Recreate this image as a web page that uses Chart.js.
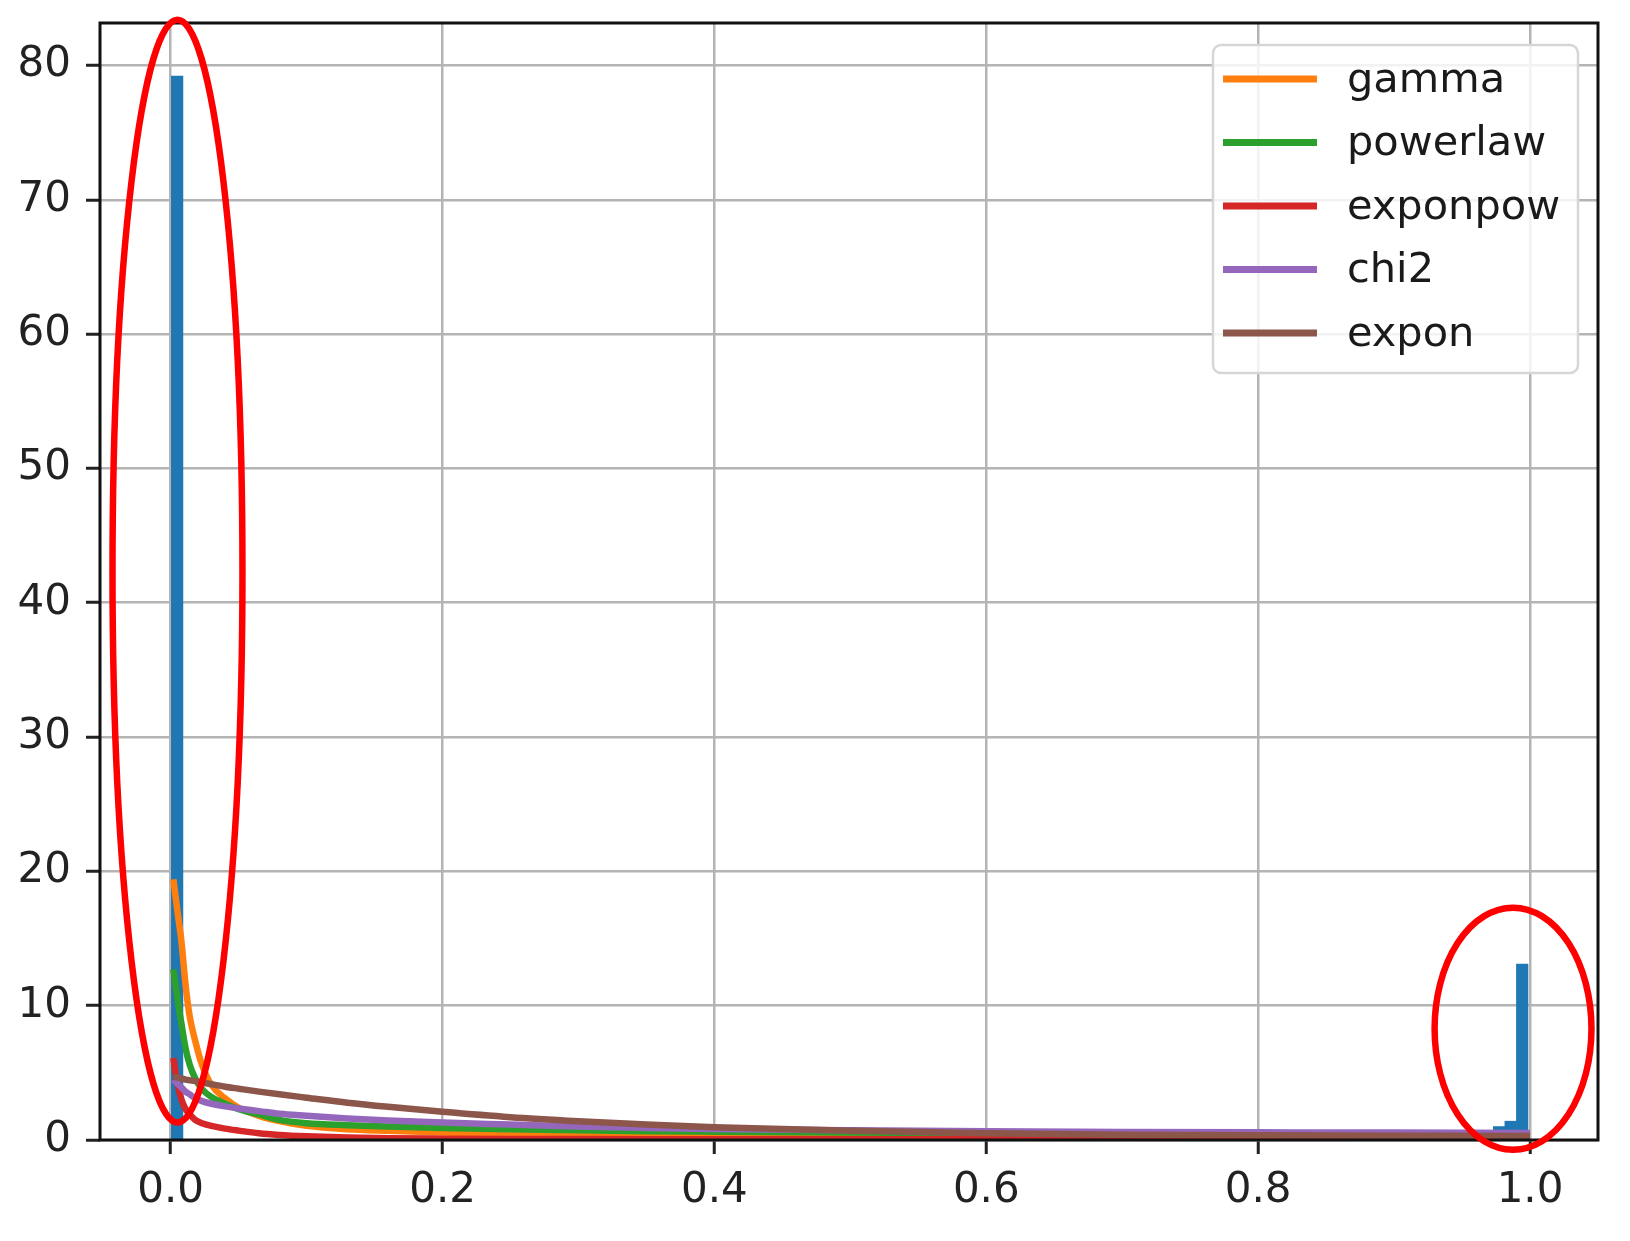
<!DOCTYPE html>
<html>
<head>
<meta charset="utf-8">
<script src="https://cdn.jsdelivr.net/npm/chart.js@4.4.1/dist/chart.umd.min.js"></script>
<style>
  html, body { margin: 0; padding: 0; background: #ffffff; }
  #wrap { width: 1630px; height: 1241px; position: relative; }
</style>
</head>
<body>
<div id="wrap"><canvas id="c"></canvas></div>
<script>
// ---------- data ----------
const xTickValues = [0.0, 0.2, 0.4, 0.6, 0.8, 1.0];
const xTickLabels = ['0.0', '0.2', '0.4', '0.6', '0.8', '1.0'];
const yTickValues = [0, 10, 20, 30, 40, 50, 60, 70, 80];
const yTickLabels = ['0', '10', '20', '30', '40', '50', '60', '70', '80'];

// histogram bins (centers) and heights
const histX = [0.00475, 0.96025, 0.96875, 0.97725, 0.98575, 0.99425];
const histY = [79.2, 0.45, 0.6, 1.0, 1.4, 13.1];

// fitted curves, sampled at these x
const curveX = [0.002, 0.005, 0.008, 0.011, 0.014, 0.018, 0.023, 0.03, 0.04, 0.05, 0.065, 0.08, 0.1, 0.13, 0.16, 0.2, 0.25, 0.3, 0.35, 0.4, 0.5, 0.6, 0.7, 0.8, 0.9, 1.0];
const seriesNames = ['gamma', 'powerlaw', 'exponpow', 'chi2', 'expon'];
const gammaY    = [19.4, 17.0, 14.7, 11.5, 9.2, 7.4, 5.6, 4.1, 3.1, 2.4, 1.8, 1.4, 1.05, 0.8, 0.68, 0.55, 0.42, 0.33, 0.26, 0.21, 0.14, 0.10, 0.08, 0.06, 0.05, 0.04];
const powerlawY = [12.7, 10.5, 8.6, 6.8, 5.6, 4.6, 3.8, 3.2, 2.7, 2.3, 1.9, 1.5, 1.25, 1.1, 1.0, 0.9, 0.8, 0.72, 0.66, 0.62, 0.55, 0.5, 0.47, 0.44, 0.42, 0.4];
const exponpowY = [6.1, 4.2, 3.0, 2.3, 1.9, 1.5, 1.25, 1.05, 0.85, 0.7, 0.5, 0.38, 0.28, 0.18, 0.13, 0.1, 0.08, 0.07, 0.06, 0.06, 0.05, 0.05, 0.05, 0.05, 0.05, 0.05];
const chi2Y     = [4.5, 4.2, 3.9, 3.6, 3.4, 3.1, 2.9, 2.7, 2.5, 2.35, 2.15, 1.95, 1.8, 1.6, 1.45, 1.3, 1.15, 1.0, 0.9, 0.82, 0.72, 0.65, 0.6, 0.57, 0.55, 0.53];
const exponY    = [4.7, 4.65, 4.58, 4.5, 4.45, 4.38, 4.28, 4.15, 3.97, 3.82, 3.6, 3.4, 3.15, 2.78, 2.47, 2.1, 1.7, 1.4, 1.15, 0.95, 0.68, 0.5, 0.4, 0.35, 0.32, 0.3];

// red hand-drawn ellipses (in data units)
const ellipseCX = [0.0050, 0.9875];
const ellipseCY = [42.35, 8.29];
const ellipseRX = [0.0478, 0.0577];
const ellipseRY = [41.05, 9.01];

// ---------- styles ----------
const FONT = "'DejaVu Sans', 'Liberation Sans', sans-serif";
const colors = ['#ff7f0e', '#2ca02c', '#d62728', '#9467bd', '#8c564b'];
const seriesY = [gammaY, powerlawY, exponpowY, chi2Y, exponY];

const datasets = [];
datasets.push({
  type: 'bar',
  label: 'hist',
  data: histX.map((x, i) => ({ x: x, y: histY[i] })),
  backgroundColor: '#1f77b4',
  borderWidth: 0,
  categoryPercentage: 1.0,
  barPercentage: 1.0,
  order: 10
});
seriesNames.forEach((name, k) => {
  datasets.push({
    type: 'line',
    label: name,
    data: curveX.map((x, i) => ({ x: x, y: seriesY[k][i] })),
    borderColor: colors[k],
    backgroundColor: colors[k],
    borderWidth: 6.5,
    pointRadius: 0,
    fill: false,
    cubicInterpolationMode: 'monotone',
    borderCapStyle: 'butt',
    order: 6 - k
  });
});

const framePlugin = {
  id: 'frame',
  afterDatasetsDraw(chart) {
    const ctx = chart.ctx;
    const a = chart.chartArea;
    ctx.save();
    ctx.strokeStyle = '#111111';
    ctx.lineWidth = 3;
    ctx.strokeRect(a.left, a.top, a.right - a.left, a.bottom - a.top);
    ctx.restore();

    // legend (matplotlib style, upper right)
    const boxW = 365, boxH = 328;
    const bx = a.right - 20 - boxW, by = a.top + 22;
    ctx.save();
    ctx.beginPath();
    const r = 8;
    ctx.moveTo(bx + r, by);
    ctx.arcTo(bx + boxW, by, bx + boxW, by + boxH, r);
    ctx.arcTo(bx + boxW, by + boxH, bx, by + boxH, r);
    ctx.arcTo(bx, by + boxH, bx, by, r);
    ctx.arcTo(bx, by, bx + boxW, by, r);
    ctx.closePath();
    ctx.fillStyle = 'rgba(255,255,255,0.82)';
    ctx.fill();
    ctx.strokeStyle = '#d6d6d6';
    ctx.lineWidth = 2.5;
    ctx.stroke();
    ctx.font = '41.5px ' + FONT;
    ctx.textBaseline = 'middle';
    ctx.textAlign = 'left';
    seriesNames.forEach((name, k) => {
      const yy = by + 34 + k * 63.5;
      ctx.strokeStyle = colors[k];
      ctx.lineWidth = 7;
      ctx.lineCap = 'butt';
      ctx.beginPath();
      ctx.moveTo(bx + 10, yy);
      ctx.lineTo(bx + 104, yy);
      ctx.stroke();
      ctx.fillStyle = '#1a1a1a';
      ctx.fillText(name, bx + 134, yy + 2);
    });
    ctx.restore();
  },
  afterDraw(chart) {
    const ctx = chart.ctx;
    const xs = chart.scales.x, ys = chart.scales.y;
    ctx.save();
    ctx.strokeStyle = '#ff0000';
    ctx.lineWidth = 6.5;
    for (let i = 0; i < ellipseCX.length; i++) {
      const cx = xs.getPixelForValue(ellipseCX[i]);
      const cy = ys.getPixelForValue(ellipseCY[i]);
      const rx = Math.abs(xs.getPixelForValue(ellipseCX[i] + ellipseRX[i]) - cx);
      const ry = Math.abs(ys.getPixelForValue(ellipseCY[i] + ellipseRY[i]) - cy);
      ctx.beginPath();
      ctx.ellipse(cx, cy, rx, ry, 0, 0, Math.PI * 2);
      ctx.stroke();
    }
    ctx.restore();
  }
};

new Chart(document.getElementById('c'), {
  type: 'line',
  data: { datasets: datasets },
  options: {
    responsive: true,
    maintainAspectRatio: false,
    devicePixelRatio: 1,
    animation: false,
    layout: { padding: { left: 0, top: 23, right: 32, bottom: 0 } },
    plugins: { legend: { display: false }, tooltip: { enabled: false } },
    scales: {
      x: {
        type: 'linear',
        min: -0.052,
        max: 1.050,
        offset: false,
        afterBuildTicks: (axis) => { axis.ticks = xTickValues.map(v => ({ value: v })); },
        afterFit: (axis) => { axis.height = 101; axis.paddingLeft = 0; axis.paddingRight = 0; },
        grid: { color: '#b4b4b4', lineWidth: 2.5, tickColor: '#222222', tickLength: 14, tickWidth: 3, offset: false },
        border: { display: false },
        ticks: {
          autoSkip: false,
          maxRotation: 0,
          padding: 12,
          color: '#222222',
          font: { family: FONT, size: 42 },
          callback: (v, i) => xTickLabels[i]
        }
      },
      y: {
        type: 'linear',
        min: 0,
        max: 83.16,
        afterBuildTicks: (axis) => { axis.ticks = yTickValues.map(v => ({ value: v })); },
        afterFit: (axis) => { axis.width = 100; axis.paddingTop = 0; axis.paddingBottom = 0; },
        grid: { color: '#b4b4b4', lineWidth: 2.5, tickColor: '#222222', tickLength: 14, tickWidth: 3 },
        border: { display: false },
        ticks: {
          autoSkip: false,
          padding: 15,
          color: '#222222',
          font: { family: FONT, size: 42 },
          callback: (v, i) => yTickLabels[i]
        }
      }
    }
  },
  plugins: [framePlugin]
});
</script>
</body>
</html>
